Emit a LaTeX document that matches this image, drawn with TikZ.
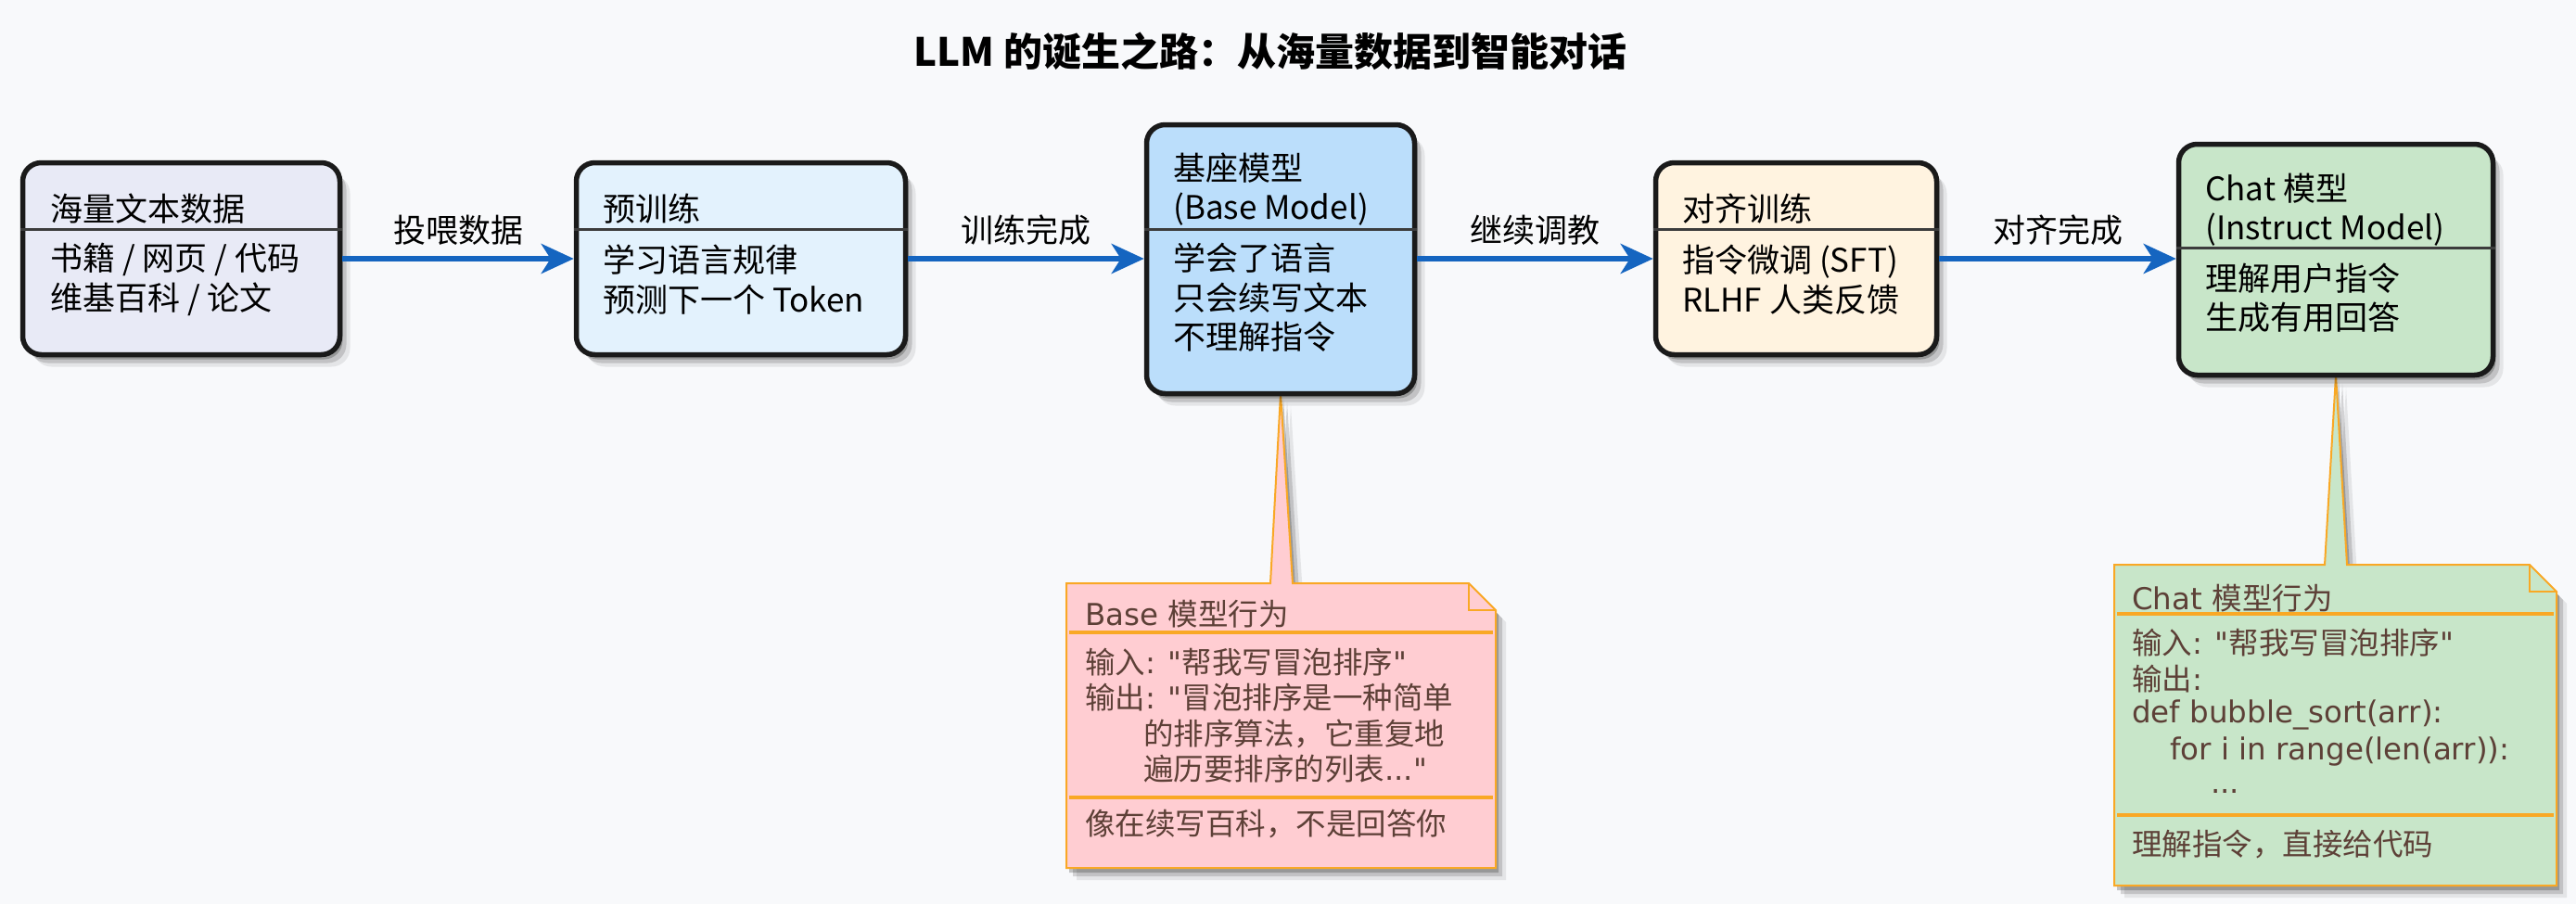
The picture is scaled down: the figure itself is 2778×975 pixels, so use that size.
\documentclass[tikz,border=0pt]{standalone}
\usepackage{fontspec}
\setmainfont{Noto Sans CJK SC}[Ligatures=TeXOff]
\newfontfamily\latfont{DejaVu Sans}[Ligatures=TeXOff]
\newcommand\latseg[1]{{\latfont #1}}
\usetikzlibrary{shadows,arrows.meta}
\definecolor{bgc}{HTML}{F8F9FB}
\definecolor{cA}{HTML}{E8EAF6}
\definecolor{cB}{HTML}{E3F2FD}
\definecolor{cC}{HTML}{BBDEFB}
\definecolor{cD}{HTML}{FFF3E0}
\definecolor{cE}{HTML}{C8E6C9}
\definecolor{edgec}{HTML}{1A1A1A}
\definecolor{flowblue}{HTML}{1565C0}
\definecolor{notepink}{HTML}{FFCDD2}
\definecolor{notegreen}{HTML}{C8E6C9}
\definecolor{noteorange}{HTML}{F9A825}
\definecolor{notebrown}{HTML}{5D4037}
\tikzset{
  softshadow/.style={
    drop shadow={shadow xshift=3pt,shadow yshift=-5pt,opacity=.22,fill=black},
    drop shadow={shadow xshift=7pt,shadow yshift=-9pt,opacity=.15,fill=black},
    drop shadow={shadow xshift=11pt,shadow yshift=-13pt,opacity=.08,fill=black}},
  stage/.style={draw=edgec,line width=5.5pt,rounded corners=20pt,inner sep=0pt,softshadow},
  divline/.style={draw=edgec!85,line width=3pt},
  boxtxt/.style={anchor=west,align=left,inner sep=0pt,text=black,font=\fontsize{35}{42.5}\selectfont},
  flow/.style={draw=flowblue,line width=6pt,-{Stealth[length=35pt,width=32pt,inset=10pt]}},
  flowlbl/.style={inner sep=0pt,text=black,yshift=31pt,font=\fontsize{35}{42}\selectfont},
  notebody/.style={draw=noteorange,line width=2pt,softshadow},
  noteline/.style={draw=noteorange,line width=2pt},
  notediv/.style={draw=noteorange,line width=3.5pt},
  notetxt/.style={anchor=west,inner sep=0pt,text=notebrown,font=\fontsize{32.5}{38.5}\selectfont},
}
\begin{document}
\begin{tikzpicture}[x=1pt,y=-1pt]
\useasboundingbox (0,0) rectangle (2778,975);
\fill[bgc] (0,0) rectangle (2778,975);

% title
\node[inner sep=0pt,font=\bfseries\fontsize{42}{48}\selectfont] (title) at (1370,55) {LLM 的诞生之路：从海量数据到智能对话};

% stage box positions
\path (195.5,279) coordinate (p1) (799,279) coordinate (p2) (1381,279.5) coordinate (p3)
      (1937,279) coordinate (p4) (2519,280) coordinate (p5);

% ghost nodes for note pointers
\node[minimum width=289pt,minimum height=290pt,inner sep=0pt] (b3ghost) at (p3) {};
\node[minimum width=339pt,minimum height=249pt,inner sep=0pt] (b5ghost) at (p5) {};

\path[notebody,fill=notepink] (1150,629) -- (1370,629) -- (b3ghost.south) -- (1394,629)
   -- (1584,629) -- (1613,658) -- (1613,936) -- (1150,936) -- cycle;
\draw[noteline] (1584,629) -- (1584,658) -- (1613,658);
\draw[notediv] (1153,682) -- (1610,682);
\draw[notediv] (1153,860) -- (1610,860);
\node[notetxt] (n1h) at (1170,662) {\latseg{Base }模型行为};
\node[notetxt] (n1a) at (1170,714) {输入\latseg{: "}帮我写冒泡排序\latseg{"}};
\node[notetxt] (n1b) at (1170,752) {输出\latseg{: "}冒泡排序是一种简单};
\node[notetxt] (n1c) at (1233,791) {的排序算法，它重复地};
\node[notetxt] (n1d) at (1233,829) {遍历要排序的列表\latseg{..."}};
\node[notetxt] (n1e) at (1170,889) {像在续写百科，不是回答你};

\path[notebody,fill=notegreen] (2280,609) -- (2507,609) -- (b5ghost.south) -- (2531,609)
   -- (2728,609) -- (2757,638) -- (2757,955) -- (2280,955) -- cycle;
\draw[noteline] (2728,609) -- (2728,638) -- (2757,638);
\draw[notediv] (2283,662) -- (2754,662);
\draw[notediv] (2283,879) -- (2754,879);
\node[notetxt] (n2h) at (2299,645) {\latseg{Chat }模型行为};
\node[notetxt] (n2a) at (2299,693) {输入\latseg{: "}帮我写冒泡排序\latseg{"}};
\node[notetxt] (n2b) at (2299,732) {输出\latseg{:}};
\node[notetxt] (n2c) at (2299,771) {\latseg{def bubble\_sort(arr):}};
\node[notetxt] (n2d) at (2340,811) {\latseg{for i in range(len(arr)):}};
\node[notetxt] (n2e) at (2384,853) {\latseg{...}};
\node[notetxt] (n2f) at (2299,911) {理解指令，直接给代码};

% boxes
\node[stage,fill=cA,minimum width=342pt,minimum height=207pt] (b1) at (p1) {};
\node[stage,fill=cB,minimum width=355pt,minimum height=207pt] (b2) at (p2) {};
\node[stage,fill=cC,minimum width=289pt,minimum height=290pt] (b3) at (p3) {};
\node[stage,fill=cD,minimum width=303pt,minimum height=207pt] (b4) at (p4) {};
\node[stage,fill=cE,minimum width=339pt,minimum height=249pt] (b5) at (p5) {};

\draw[divline] (b1.west |- 0,247) -- (b1.east |- 0,247);
\draw[divline] (b2.west |- 0,247) -- (b2.east |- 0,247);
\draw[divline] (b3.west |- 0,247) -- (b3.east |- 0,247);
\draw[divline] (b4.west |- 0,247) -- (b4.east |- 0,247);
\draw[divline] (b5.west |- 0,267) -- (b5.east |- 0,267);

\node[boxtxt] (t1h) at (54,225) {海量文本数据};
\node[boxtxt] (t1b) at (54,301.5) {书籍 / 网页 / 代码\\维基百科 / 论文};
\node[boxtxt] (t2h) at (650,225) {预训练};
\node[boxtxt] (t2b) at (650,301.5) {学习语言规律\\预测下一个 Token};
\node[boxtxt] (t3h) at (1265,204) {基座模型\\(Base Model)};
\node[boxtxt] (t3b) at (1265,321) {学会了语言\\只会续写文本\\不理解指令};
\node[boxtxt] (t4h) at (1814,225) {对齐训练};
\node[boxtxt] (t4b) at (1814,301.5) {指令微调 (SFT)\\RLHF 人类反馈};
\node[boxtxt] (t5h) at (2378,226) {Chat 模型\\(Instruct Model)};
\node[boxtxt] (t5b) at (2378,321) {理解用户指令\\生成有用回答};

% connectors
\draw[flow] (b1.east) -- (b1.east -| b2.west) node[flowlbl,midway] (l1) {投喂数据};
\draw[flow] (b2.east) -- (b2.east -| b3.west) node[flowlbl,midway] (l2) {训练完成};
\draw[flow] (b3.east |- b2.east) -- (b2.east -| b4.west) node[flowlbl,midway] (l3) {继续调教};
\draw[flow] (b4.east) -- (b4.east -| b5.west) node[flowlbl,midway] (l4) {对齐完成};
\end{tikzpicture}
\end{document}
